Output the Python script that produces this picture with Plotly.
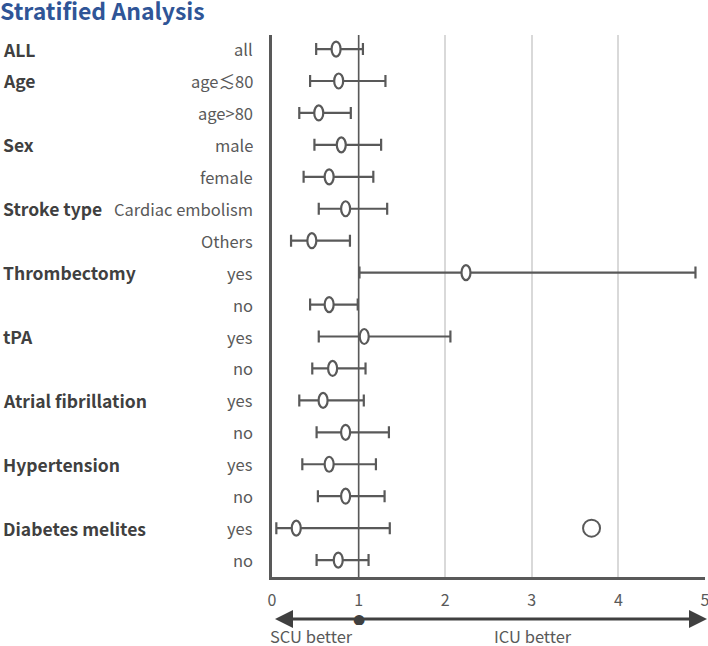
import plotly.graph_objects as go

groups = ["ALL", "Age", "", "Sex", "", "Stroke type", "", "Thrombectomy", "", "tPA", "",
          "Atrial fibrillation", "", "Hypertension", "", "Diabetes melites", ""]
subgroups = ["all", "age≲80", "age>80", "male", "female", "Cardiac embolism", "Others",
             "yes", "no", "yes", "no", "yes", "no", "yes", "no", "yes", "no"]
point = [0.74, 0.77, 0.54, 0.80, 0.66, 0.85, 0.46, 2.24, 0.66, 1.065, 0.70, 0.59, 0.85, 0.66, 0.85, 0.28, 0.765]
lower = [0.51, 0.44, 0.315, 0.49, 0.365, 0.54, 0.22, 1.01, 0.44, 0.54, 0.465, 0.315, 0.515, 0.35, 0.53, 0.05, 0.515]
upper = [1.05, 1.31, 0.91, 1.26, 1.17, 1.33, 0.90, 4.89, 0.99, 2.06, 1.08, 1.06, 1.35, 1.20, 1.30, 1.36, 1.115]
extra_x = [3.69]
extra_row = [15]
x_ticks = [0, 1, 2, 3, 4, 5]

DARK = "#595959"
TXT = "#404040"
FONT = "Noto Sans CJK JP"

rows = list(range(len(subgroups)))
fig = go.Figure()

fig.add_trace(go.Scatter(
    x=point, y=rows, mode="markers",
    marker=dict(size=1, color="rgba(0,0,0,0)"),
    error_x=dict(type="data", symmetric=False,
                 array=[u - p for u, p in zip(upper, point)],
                 arrayminus=[p - l for p, l in zip(point, lower)],
                 color=DARK, thickness=2.2, width=6),
    showlegend=False, hoverinfo="skip"))

fig.add_trace(go.Scatter(
    x=extra_x, y=extra_row, mode="markers",
    marker=dict(symbol="circle-open", size=17, color=DARK, line=dict(width=2)),
    showlegend=False))

shapes = []
shapes.append(dict(type="line", xref="x", yref="paper", x0=1, x1=1, y0=0, y1=1,
                   line=dict(color=DARK, width=1.5), layer="above"))
for p, r in zip(point, rows):
    shapes.append(dict(type="circle", xref="x", yref="y",
                       xsizemode="pixel", ysizemode="pixel",
                       xanchor=p, yanchor=r, x0=-4.5, x1=4.5, y0=-7.5, y1=7.5,
                       line=dict(color=DARK, width=2.2), fillcolor="white", layer="above"))

PW = 433.0
PH = 542.0
annotations = []
for g, s, r in zip(groups, subgroups, rows):
    if g:
        annotations.append(dict(text="<b>" + g + "</b>", x=-271 / PW, xref="paper", y=r, yref="y",
                                xanchor="left", yanchor="middle", showarrow=False,
                                font=dict(family=FONT, size=17.5, color=TXT)))
    annotations.append(dict(text=s, x=-17 / PW, xref="paper", y=r, yref="y",
                            xanchor="right", yanchor="middle", showarrow=False,
                            font=dict(family=FONT, size=16.5, color=DARK)))

AY = -42 / PH
annotations.append(dict(x=3 / PW, y=AY, xref="paper", yref="paper", ax=83, ay=0, axref="pixel", ayref="pixel",
                        showarrow=True, arrowhead=2, arrowsize=1.2, arrowwidth=3, arrowcolor=TXT, text=""))
annotations.append(dict(x=435 / PW, y=AY, xref="paper", yref="paper", ax=-349, ay=0, axref="pixel", ayref="pixel",
                        showarrow=True, arrowhead=2, arrowsize=1.2, arrowwidth=3, arrowcolor=TXT, text=""))
annotations.append(dict(text="●", x=1, y=AY, xref="x", yref="paper", showarrow=False,
                        xanchor="center", yanchor="middle", height=12,
                        font=dict(family="DejaVu Sans", size=14, color=TXT)))
annotations.append(dict(text="SCU better", x=(311 - 272) / PW, y=-59 / PH, xref="paper", yref="paper",
                        showarrow=False, xanchor="center", yanchor="middle", height=18,
                        font=dict(family=FONT, size=16.5, color=DARK)))
annotations.append(dict(text="ICU better", x=(533 - 272) / PW, y=-59 / PH, xref="paper", yref="paper",
                        showarrow=False, xanchor="center", yanchor="middle", height=18,
                        font=dict(family=FONT, size=16.5, color=DARK)))

fig.update_layout(
    width=708, height=646,
    margin=dict(l=272, r=3, t=35, b=69, autoexpand=False),
    paper_bgcolor="white", plot_bgcolor="white",
    title=dict(text="<b>Stratified Analysis</b>", x=0.0, xref="container", xanchor="left",
               y=0.981, yanchor="middle", yref="container",
               font=dict(family=FONT, size=23, color="#2F5597")),
    shapes=shapes, annotations=annotations,
    xaxis=dict(range=[0, 5], tickvals=x_ticks, ticktext=[str(t) for t in x_ticks],
               showgrid=True, gridcolor="#d9d9d9", gridwidth=1.5, zeroline=False,
               showline=True, linecolor=DARK, linewidth=2.5, ticks="", automargin=False,
               ticklabelstandoff=7, ticklabeloverflow="allow",
               tickfont=dict(family=FONT, size=16, color=DARK)),
    yaxis=dict(range=[16.53, -0.44], showgrid=False, zeroline=False, showticklabels=False,
               showline=True, linecolor=DARK, linewidth=2.5, ticks=""),
)

fig.write_html("out.html", config={"displayModeBar": False},
               post_script="document.body.style.margin='0';document.body.style.padding='0';")
